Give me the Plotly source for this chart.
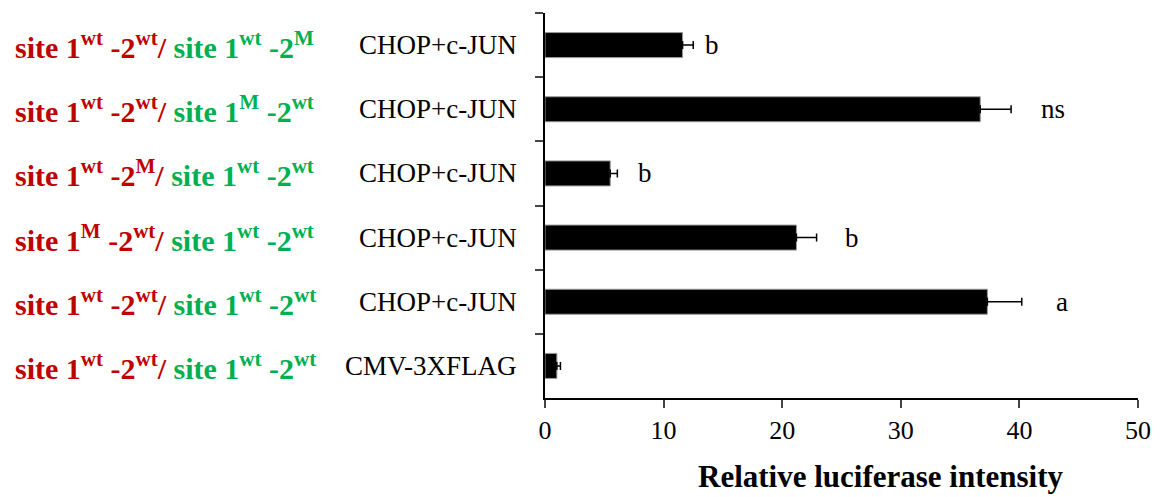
import plotly.graph_objects as go

# Data (top to bottom)
red_parts = [
    "site 1<sup>wt</sup> -2<sup>wt</sup>/",
    "site 1<sup>wt</sup> -2<sup>wt</sup>/",
    "site 1<sup>wt</sup> -2<sup>M</sup>/",
    "site 1<sup>M</sup> -2<sup>wt</sup>/",
    "site 1<sup>wt</sup> -2<sup>wt</sup>/",
    "site 1<sup>wt</sup> -2<sup>wt</sup>/",
]
green_parts = [
    "site 1<sup>wt</sup> -2<sup>M</sup>",
    "site 1<sup>M</sup> -2<sup>wt</sup>",
    "site 1<sup>wt</sup> -2<sup>wt</sup>",
    "site 1<sup>wt</sup> -2<sup>wt</sup>",
    "site 1<sup>wt</sup> -2<sup>wt</sup>",
    "site 1<sup>wt</sup> -2<sup>wt</sup>",
]
treatments = ["CHOP+c-JUN", "CHOP+c-JUN", "CHOP+c-JUN", "CHOP+c-JUN", "CHOP+c-JUN", "CMV-3XFLAG"]
categories = ["g1", "g2", "g3", "g4", "g5", "g6"]
values = [11.6, 36.7, 5.5, 21.2, 37.3, 1.0]
errors = [0.9, 2.6, 0.6, 1.7, 2.9, 0.3]
letters = ["b", "ns", "b", "b", "a", ""]
letter_x = [14.1, 42.8, 8.4, 25.9, 43.6, None]
x_ticks = [0, 10, 20, 30, 40, 50]

RED = "#C00000"
GREEN = "#00B050"
SERIF = "Liberation Serif, Times New Roman, serif"

fig = go.Figure()
fig.add_trace(go.Bar(
    y=categories, x=values, orientation="h",
    marker=dict(color="black", line=dict(color="#999999", width=1)),
    width=0.39,
    error_x=dict(type="data", array=errors, symmetric=False, arrayminus=[0]*len(errors),
                 color="black", thickness=1.5, width=4),
))

annotations = []
for cat, r, g, t, l, lx in zip(categories, red_parts, green_parts, treatments, letters, letter_x):
    annotations.append(dict(
        x=-0.897, xref="paper", y=cat, yref="y", xanchor="left", yanchor="middle",
        text=f"<b><span style='color:{RED}'>{r}</span> <span style='color:{GREEN}'>{g}</span></b>",
        showarrow=False, font=dict(family=SERIF, size=30, color=RED)))
    annotations.append(dict(
        x=-0.044, xref="paper", y=cat, yref="y", xanchor="right", yanchor="middle",
        text=t, showarrow=False, font=dict(family=SERIF, size=27, color="black")))
    if l:
        annotations.append(dict(
            x=lx, xref="x", y=cat, yref="y", xanchor="center", yanchor="middle",
            text=l, showarrow=False, font=dict(family=SERIF, size=27, color="black")))

annotations.append(dict(
    x=(881 - 545) / 593, xref="paper", y=-(476 - 398) / 385, yref="paper",
    xanchor="center", yanchor="middle", showarrow=False,
    text="<b>Relative luciferase intensity</b>",
    font=dict(family=SERIF, size=31, color="black")))

fig.update_layout(
    width=1168, height=497,
    margin=dict(l=545, r=30, t=13, b=99),
    paper_bgcolor="white", plot_bgcolor="white",
    showlegend=False,
    annotations=annotations,
    xaxis=dict(range=[0, 50], tickvals=x_ticks, ticks="outside", ticklen=8, tickwidth=2,
               showline=True, linecolor="black", linewidth=2, showgrid=False, zeroline=False,
               tickfont=dict(family=SERIF, size=26, color="black")),
    yaxis=dict(categoryorder="array", categoryarray=categories, autorange="reversed",
               showticklabels=False, ticks="outside", tickson="boundaries", ticklen=8, tickwidth=2,
               showline=True, linecolor="black", linewidth=2, showgrid=False, zeroline=False),
)

fig.write_html("out.html")
